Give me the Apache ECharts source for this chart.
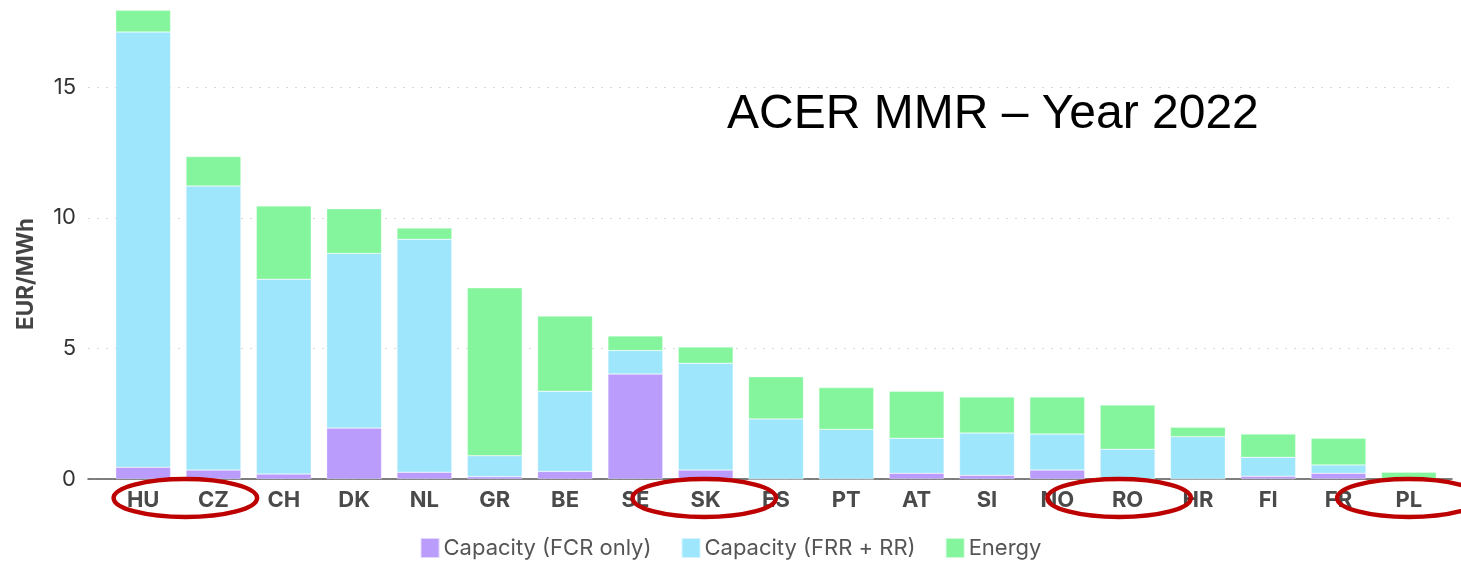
<!DOCTYPE html>
<html><head><meta charset="utf-8">
<script src="https://cdn.jsdelivr.net/npm/echarts@6/dist/echarts.min.js"></script>
<style>html,body{margin:0;padding:0;background:#fff}#c{width:1461px;height:565px}</style>
</head><body><div id="c"></div>
<script>
const categories = ['HU','CZ','CH','DK','NL','GR','BE','SE','SK','ES','PT','AT','SI','NO','RO','HR','FI','FR','PL'];
const fcr    = [0.45,0.34,0.19,1.95,0.26,0.09,0.29,4.02,0.34,0,0,0.22,0.14,0.34,0,0,0.11,0.22,0];
const frrRr  = [16.67,10.88,7.46,6.69,8.92,0.80,3.07,0.90,4.09,2.30,1.90,1.34,1.62,1.38,1.14,1.62,0.72,0.32,0];
const energy = [0.83,1.13,2.81,1.71,0.43,6.43,2.88,0.56,0.63,1.62,1.60,1.80,1.38,1.42,1.69,0.36,0.89,1.02,0.26];
const seriesNames = ['Capacity (FCR only)','Capacity (FRR + RR)','Energy'];
const yTicks = [0,5,10,15];
const titleText = 'ACER MMR \u2013 Year 2022';
// annotation ellipses: centre as fractional category index
const ellipseCenters = [0.6, 7.98, 13.88, 18];

const colors = ['#b99cfb','#9ee6fc','#85f59d'];
const chart = echarts.init(document.getElementById('c'));
const yMax = 18;
chart.setOption({
  animation:false,
  title:{text:titleText,left:722,top:86,textStyle:{fontFamily:'Liberation Sans',fontSize:48,fontWeight:'normal',color:'#000'}},
  legend:{bottom:1,left:'center',icon:'rect',itemWidth:19,itemHeight:20,itemGap:29,
    textStyle:{fontFamily:'Inter',fontSize:22,color:'#555',padding:[0,0,0,-1]},data:seriesNames},
  grid:[
    {left:88,right:9,top:9,bottom:86},
    {left:108,right:17,top:9,bottom:86}
  ],
  xAxis:[
    {gridIndex:0,type:'value',min:0,max:1,axisLine:{show:true,lineStyle:{color:'#555',width:1.5}},axisTick:{show:false},axisLabel:{show:false},splitLine:{show:false}},
    {gridIndex:1,type:'category',data:categories,axisLine:{show:false},axisTick:{show:false},
      axisLabel:{fontFamily:'Inter',fontSize:22,fontWeight:'bold',color:'#4a4a4a',margin:10}}
  ],
  yAxis:[
    {gridIndex:0,type:'value',min:0,max:yMax,interval:5,
      name:'EUR/MWh',nameLocation:'middle',nameGap:50,
      nameTextStyle:{fontFamily:'Inter',fontSize:22.5,fontWeight:'bold',color:'#444',padding:[0,60,0,0]},
      axisLine:{show:false},axisTick:{show:false},
      axisLabel:{fontFamily:'Inter',fontSize:22,color:'#333',margin:12,
        formatter:v=>yTicks.includes(v)?String(v):''},
      splitLine:{show:true,showMaxLine:false,lineStyle:{color:'#d8d8d8',type:[2,7],width:1.2}}},
    {gridIndex:1,type:'value',min:0,max:yMax,interval:5,show:false,splitLine:{show:false}}
  ],
  series:[fcr,frrRr,energy].map((d,i)=>({
    name:seriesNames[i],type:'bar',stack:'s',xAxisIndex:1,yAxisIndex:1,data:d,
    barWidth:'78%',itemStyle:{color:colors[i],borderColor:'rgba(255,255,255,0.6)',borderWidth:0.5}
  }))
});
// annotation ellipses positioned from the category axis
const p0 = chart.convertToPixel({xAxisIndex:1},0);
const p1 = chart.convertToPixel({xAxisIndex:1},1);
const step = p1-p0;
const yBase = chart.convertToPixel({yAxisIndex:1},0);
chart.setOption({graphic:ellipseCenters.map(c=>({
  type:'ellipse',shape:{cx:p0+c*step,cy:yBase+19,rx:step*1.02,ry:19},
  style:{fill:'none',stroke:'#bd0000',lineWidth:4.5},z:100
}))});
</script></body></html>
